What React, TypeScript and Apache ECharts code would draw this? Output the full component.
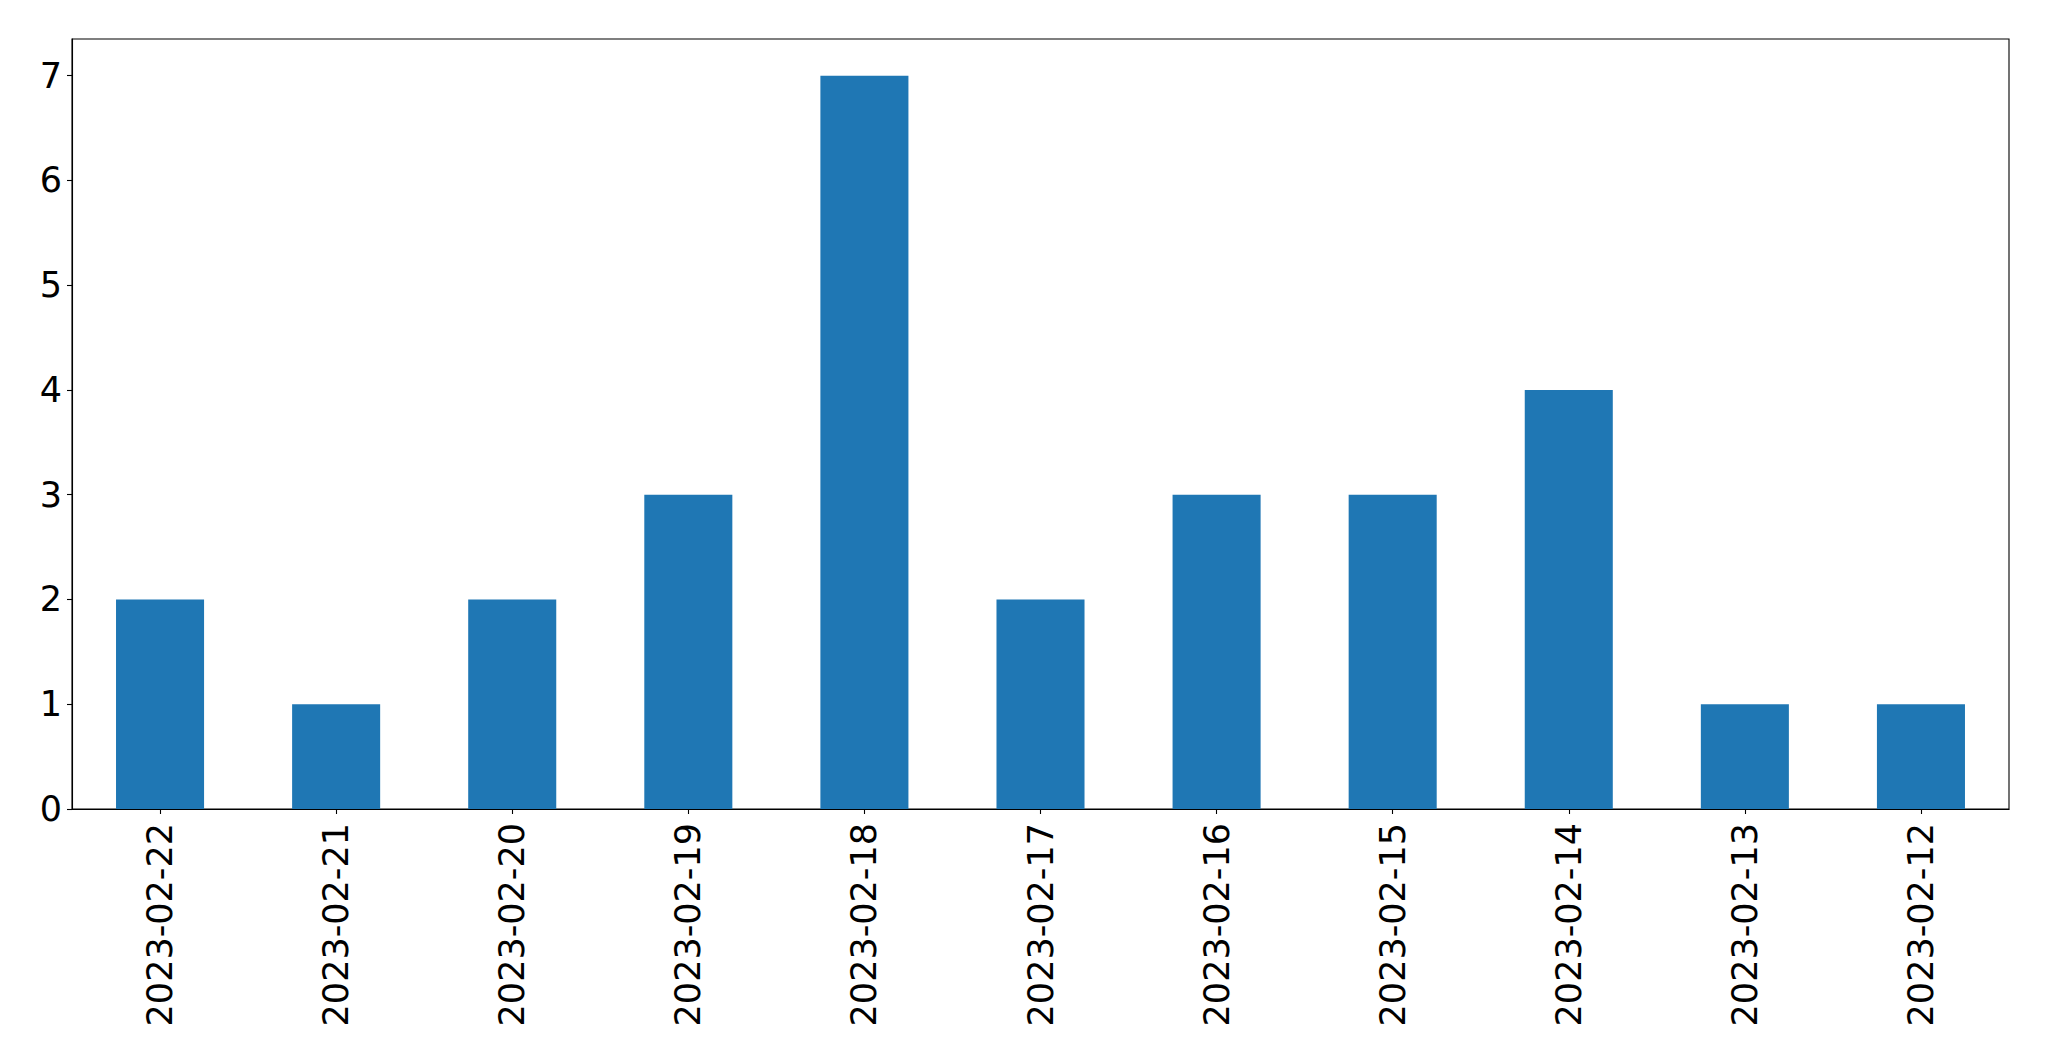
import React, { useEffect, useRef } from "react";
import * as echarts from "echarts";

const categories = [
  "2023-02-22",
  "2023-02-21",
  "2023-02-20",
  "2023-02-19",
  "2023-02-18",
  "2023-02-17",
  "2023-02-16",
  "2023-02-15",
  "2023-02-14",
  "2023-02-13",
  "2023-02-12",
];
const values = [2, 1, 2, 3, 7, 2, 3, 3, 4, 1, 1];
const yTicks = [0, 1, 2, 3, 4, 5, 6, 7];

export default function App() {
  const ref = useRef<HTMLDivElement>(null);
  useEffect(() => {
    document.body.style.margin = "0";
    const chart = echarts.init(ref.current!, null, { renderer: "svg" });
    const font = "DejaVu Sans";
    chart.setOption({
      animation: false,
      backgroundColor: "#ffffff",
      grid: {
        left: 72,
        right: 40,
        top: 39,
        bottom: 252,
        show: true,
        borderColor: "#000000",
        borderWidth: 1.1,
        backgroundColor: "transparent",
      },
      xAxis: {
        type: "category",
        data: categories,
        boundaryGap: true,
        axisLine: { show: true, lineStyle: { color: "#000000", width: 1.1 } },
        axisTick: { show: true, alignWithLabel: true, length: 5, lineStyle: { color: "#000000", width: 1.1 } },
        axisLabel: {
          rotate: 90,
          interval: 0,
          margin: 14,
          color: "#000000",
          fontFamily: font,
          fontSize: 35,
        },
        splitLine: { show: false },
      },
      yAxis: {
        type: "value",
        min: 0,
        max: 7.35,
        interval: 1,
        axisLine: { show: true, lineStyle: { color: "#000000", width: 1.1 } },
        axisTick: {
          show: true,
          length: 5,
          lineStyle: { color: "#000000", width: 1.1 },
          customValues: yTicks,
        },
        axisLabel: {
          margin: 10,
          color: "#000000",
          fontFamily: font,
          fontSize: 35,
          customValues: yTicks,
        },
        splitLine: { show: false },
      },
      series: [
        {
          type: "bar",
          data: values,
          barWidth: "50%",
          itemStyle: { color: "#1f77b4" },
        },
      ],
    });
    return () => chart.dispose();
  }, []);
  return <div ref={ref} style={{ width: 2049, height: 1061 }} />;
}
